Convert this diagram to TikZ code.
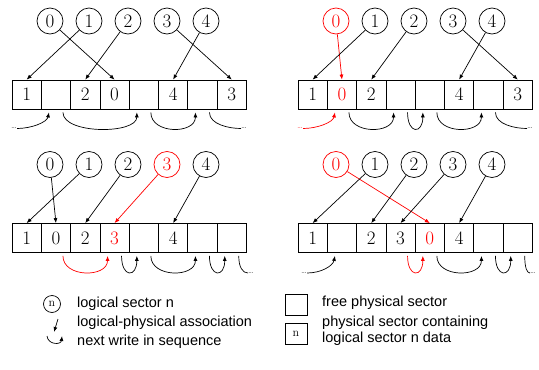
\documentclass[tikz,border=0pt]{standalone}
\usepackage{fontspec}
\newfontfamily\legendfont{Liberation Sans}
\usetikzlibrary{positioning,arrows.meta}
\newcommand{\digitfont}{\fontsize{19}{22}\selectfont}

\begin{document}
\begin{tikzpicture}[
        x=1pt, y=-1pt,
        cell/.style={rectangle, draw, minimum width=29.3pt, minimum height=29pt, inner sep=0pt, line width=0.8pt, font=\digitfont},
        lsec/.style={circle, draw, minimum size=26pt, inner sep=0pt, line width=0.7pt, font=\digitfont},
        assoc/.style={-{Latex[length=5pt,width=4pt]}, line width=0.7pt},
        nextw/.style={-{Latex[length=5pt,width=4pt]}, line width=0.7pt},
        more/.style={inner sep=0pt, font=\footnotesize},
        legend/.style={anchor=west, inner sep=0pt, font=\legendfont\fontsize{14.5}{16}\selectfont}
    ]
        \useasboundingbox (0,0) rectangle (539,370);

        % top left
        \begin{scope}[shift={(0,0)}]
            \foreach \lbl/\col [count=\i from 0] in {1/black, /black, 2/black, 0/black, /black, 4/black, /black, 3/black}
                \node[cell, text=\col] (ap\i) at (26.65+29.3*\i, 94.5) {\lbl};
            \foreach \i/\col in {0/black, 1/black, 2/black, 3/black, 4/black}
                \node[lsec, draw=\col, text=\col] (al\i) at (50+39*\i, 21) {\i};

            \draw[assoc] (al0) -- (ap3.north);
            \draw[assoc] (al1) -- (ap0.north);
            \draw[assoc] (al2) -- (ap2.north);
            \draw[assoc] (al3) -- (ap7.north);
            \draw[assoc] (al4) -- (ap5.north);

            \node[more, anchor=west] (adl) at (11,128.5) {\dots};
            \node[more, anchor=west] (adr) at (241,128.5) {\dots};
            \draw[nextw] (adl.east) .. controls +(14,0) and +(-2,10) .. ([shift={(-7,3)}]ap1.south);
            \draw[nextw] ([shift={(7,3)}]ap1.south) .. controls +(0,22) and +(0,22) .. ([shift={(-7,3)}]ap4.south);
            \draw[nextw] ([shift={(7,3)}]ap4.south) .. controls +(0,22) and +(0,22) .. ([shift={(-7,3)}]ap6.south);
            \draw[line width=0.7pt] ([shift={(7,3)}]ap6.south) .. controls +(0,12) and +(-12,0) .. (adr.west);
        \end{scope}

        % top right
        \begin{scope}[shift={(286,0)}]
            \foreach \lbl/\col [count=\i from 0] in {1/black, 0/red, 2/black, /black, /black, 4/black, /black, 3/black}
                \node[cell, text=\col] (bp\i) at (26.65+29.3*\i, 94.5) {\lbl};
            \foreach \i/\col in {0/red, 1/black, 2/black, 3/black, 4/black}
                \node[lsec, draw=\col, text=\col] (bl\i) at (50+39*\i, 21) {\i};

            \draw[assoc, red] (bl0) -- (bp1.north);
            \draw[assoc] (bl1) -- (bp0.north);
            \draw[assoc] (bl2) -- (bp2.north);
            \draw[assoc] (bl3) -- (bp7.north);
            \draw[assoc] (bl4) -- (bp5.north);

            \node[more, anchor=west, red] (bdl) at (11,128.5) {\dots};
            \node[more, anchor=west] (bdr) at (241,128.5) {\dots};
            \draw[nextw, red] (bdl.east) .. controls +(14,0) and +(-2,10) .. ([shift={(-7,3)}]bp1.south);
            \draw[nextw] ([shift={(7,3)}]bp1.south) .. controls +(0,22) and +(0,22) .. ([shift={(-7,3)}]bp3.south);
            \draw[nextw] ([shift={(7,3)}]bp3.south) .. controls +(0,22) and +(0,22) .. ([shift={(-7,3)}]bp4.south);
            \draw[nextw] ([shift={(7,3)}]bp4.south) .. controls +(0,22) and +(0,22) .. ([shift={(-7,3)}]bp6.south);
            \draw[line width=0.7pt] ([shift={(7,3)}]bp6.south) .. controls +(0,12) and +(-12,0) .. (bdr.west);
        \end{scope}

        % bottom left
        \begin{scope}[shift={(0,143.5)}]
            \foreach \lbl/\col [count=\i from 0] in {1/black, 0/black, 2/black, 3/red, /black, 4/black, /black, /black}
                \node[cell, text=\col] (cp\i) at (26.65+29.3*\i, 94.5) {\lbl};
            \foreach \i/\col in {0/black, 1/black, 2/black, 3/red, 4/black}
                \node[lsec, draw=\col, text=\col] (cl\i) at (50+39*\i, 21) {\i};

            \draw[assoc] (cl0) -- (cp1.north);
            \draw[assoc] (cl1) -- (cp0.north);
            \draw[assoc] (cl2) -- (cp2.north);
            \draw[assoc, red] (cl3) -- (cp3.north);
            \draw[assoc] (cl4) -- (cp5.north);

            \node[more, anchor=west] (cdr) at (248,129.5) {\dots};
            \draw[nextw, red] ([shift={(7,3)}]cp1.south) .. controls +(0,22) and +(0,22) .. ([shift={(-7,3)}]cp3.south);
            \draw[nextw] ([shift={(7,3)}]cp3.south) .. controls +(0,22) and +(0,22) .. ([shift={(-7,3)}]cp4.south);
            \draw[nextw] ([shift={(7,3)}]cp4.south) .. controls +(0,22) and +(0,22) .. ([shift={(-7,3)}]cp6.south);
            \draw[nextw] ([shift={(7,3)}]cp6.south) .. controls +(0,22) and +(0,22) .. ([shift={(-7,3)}]cp7.south);
            \draw[line width=0.7pt] ([shift={(7,3)}]cp7.south) .. controls +(0,12) and +(-5,0) .. (cdr.west);
        \end{scope}

        % bottom right
        \begin{scope}[shift={(286,143.5)}]
            \foreach \lbl/\col [count=\i from 0] in {1/black, /black, 2/black, 3/black, 0/red, 4/black, /black, /black}
                \node[cell, text=\col] (dp\i) at (26.65+29.3*\i, 94.5) {\lbl};
            \foreach \i/\col in {0/red, 1/black, 2/black, 3/black, 4/black}
                \node[lsec, draw=\col, text=\col] (dl\i) at (50+39*\i, 21) {\i};

            \draw[assoc, red] (dl0) -- (dp4.north);
            \draw[assoc] (dl1) -- (dp0.north);
            \draw[assoc] (dl2) -- (dp2.north);
            \draw[assoc] (dl3) -- (dp3.north);
            \draw[assoc] (dl4) -- (dp5.north);

            \node[more, anchor=west] (ddl) at (15,129.5) {\dots};
            \node[more, anchor=west] (ddr) at (244,129.5) {\dots};
            \draw[nextw] (ddl.east) .. controls +(14,0) and +(-2,10) .. ([shift={(-7,3)}]dp1.south);
            \draw[nextw, red] ([shift={(7,3)}]dp3.south) .. controls +(0,22) and +(0,22) .. ([shift={(-7,3)}]dp4.south);
            \draw[nextw] ([shift={(7,3)}]dp4.south) .. controls +(0,22) and +(0,22) .. ([shift={(-7,3)}]dp6.south);
            \draw[nextw] ([shift={(7,3)}]dp6.south) .. controls +(0,22) and +(0,22) .. ([shift={(-7,3)}]dp7.south);
            \draw[line width=0.7pt] ([shift={(7,3)}]dp7.south) .. controls +(0,12) and +(-3,0) .. (ddr.west);
        \end{scope}

        % legend
        \node[lsec, minimum size=17pt, font=\fontsize{12}{14}\selectfont] (keylsec) at (52,304) {n};
        \node[legend] (keylsectext) at (77,304) {logical sector n};
        \coordinate (keyassoc1) at (58,319);
        \coordinate (keyassoc2) at (54,332);
        \draw[assoc] (keyassoc1) -- (keyassoc2);
        \node[legend] (keyassoctext) at (77,323) {logical-physical association};
        \coordinate (keynextw1) at (47,336);
        \coordinate (keynextw2) at (62,336);
        \draw[nextw] (keynextw1) .. controls +(1,9) and +(-1,9) .. (keynextw2);
        \node[legend] (keynextwtext) at (77,342) {next write in sequence};
        \node[cell, minimum width=22pt, minimum height=21pt] (keyfree) at (296,305) {};
        \node[legend] (keyfreetext) at (322,303) {free physical sector};
        \node[cell, minimum width=22pt, minimum height=21pt, font=\fontsize{12}{14}\selectfont] (keydata) at (296,334) {n};
        \node[legend, align=left] (keydatatext) at (322,331) {physical sector containing\\logical sector n data};
    \end{tikzpicture}
\end{document}
